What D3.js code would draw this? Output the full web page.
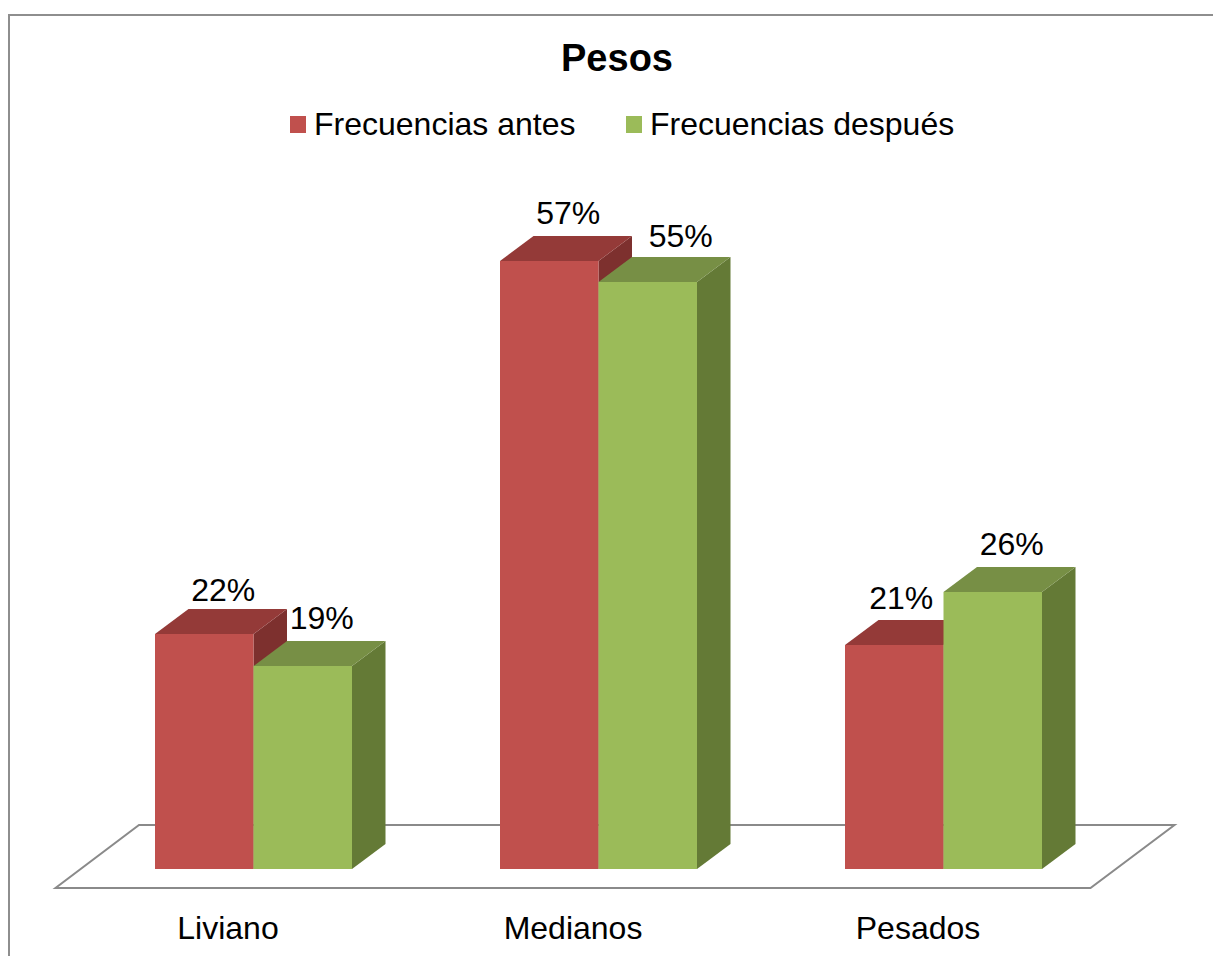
<!DOCTYPE html>
<html lang="es">
<head>
<meta charset="utf-8">
<title>Pesos</title>
<script src="https://cdn.jsdelivr.net/npm/d3@7/dist/d3.min.js"></script>
<style>
  html, body { margin: 0; padding: 0; background: #fff; overflow: hidden; }
  svg { display: block; }
  text { font-family: "Liberation Sans", Arial, sans-serif; fill: #000; }
</style>
</head>
<body>
<svg id="chart" width="1213" height="956"></svg>
<script>
// Chart data
const chartTitle = "Pesos";
const categories = ["Liviano", "Medianos", "Pesados"];
const seriesNames = ["Frecuencias antes", "Frecuencias después"];
const frecuenciasAntes = [22, 57, 21];
const frecuenciasDespues = [19, 55, 26];

// Face colours per series: front, top, side
const faceColours = [
  { front: "#C0504D", top: "#943A38", side: "#7D302E" },
  { front: "#9BBB59", top: "#778F45", side: "#647A36" }
];

// Oblique projection of the bar depth
const depth = { dx: 33.5, dy: 25 };
const baseY = 869;

const svg = d3.select("#chart");

// Outer chart frame, running off the right and bottom of the page
svg.append("path")
  .attr("d", "M9,960 V15 H1217")
  .attr("fill", "none")
  .attr("stroke", "#8e8e8e")
  .attr("stroke-width", 2);

// Scales; whole-pixel heights keep the face joins free of seams
const x0 = d3.scaleBand().domain(categories).range([81, 1116]);
const groupWidth = 197;
const x1 = d3.scaleBand().domain(d3.range(seriesNames.length)).range([0, groupWidth]);
const y = d3.scaleLinear().domain([0, 60]).rangeRound([baseY, baseY - 640]);

// Floor of the 3-D plot
svg.append("path")
  .attr("d", "M55.5,888 H1090.5 L1174.5,825 H139 Z")
  .attr("fill", "#fff")
  .attr("stroke", "#8a8a8a")
  .attr("stroke-width", 2)
  .attr("stroke-linejoin", "miter");

// One record per bar, series by series so later bars overlap earlier ones
const seriesValues = [frecuenciasAntes, frecuenciasDespues];
const bars = [];
categories.forEach((category, c) => {
  seriesValues.forEach((values, s) => {
    bars.push({ category, s, value: values[c] });
  });
});

const barGroups = svg.append("g").selectAll("g").data(bars).join("g");
const left = d => x0(d.category) + (x0.step() - groupWidth) / 2 + x1(d.s);
const right = d => left(d) + x1.bandwidth();

// Side face
barGroups.append("path")
  .attr("fill", d => faceColours[d.s].side)
  .attr("d", d => {
    const r = right(d), t = y(d.value);
    return `M${r},${t} L${r + depth.dx},${t - depth.dy} V${baseY - depth.dy} L${r},${baseY} Z`;
  });

// Top face
barGroups.append("path")
  .attr("fill", d => faceColours[d.s].top)
  .attr("d", d => {
    const l = left(d), r = right(d), t = y(d.value);
    return `M${l},${t} L${l + depth.dx},${t - depth.dy} H${r + depth.dx} L${r},${t} Z`;
  });

// Front face
barGroups.append("rect")
  .attr("fill", d => faceColours[d.s].front)
  .attr("x", left)
  .attr("y", d => y(d.value))
  .attr("width", x1.bandwidth())
  .attr("height", d => baseY - y(d.value));

// Value labels sit above the top face; some are nudged to clear a neighbour
const labelNudge = { "Medianos-1": 14, "Pesados-0": -12 };
const labelLift = { "Liviano-0": 8, "Medianos-1": 10, "Pesados-0": 11 };
const labelKey = d => `${d.category}-${d.s}`;
svg.append("g").selectAll("text").data(bars).join("text")
  .attr("x", d => left(d) + x1.bandwidth() / 2 + 19 + (labelNudge[labelKey(d)] || 0))
  .attr("y", d => y(d.value) - depth.dy - (labelLift[labelKey(d)] ?? 12.5))
  .attr("text-anchor", "middle")
  .attr("font-size", 32)
  .text(d => `${d.value}%`);

// Category axis, shifted left to follow the front edge of the floor
const axis = d3.axisBottom(x0).tickSize(0).tickPadding(0);
const axisG = svg.append("g")
  .attr("transform", "translate(-25.5,909)")
  .call(axis);
axisG.select(".domain").remove();
axisG.selectAll("text")
  .attr("font-size", 32)
  .attr("dy", "0.94em")
  .style("font-family", '"Liberation Sans", Arial, sans-serif');

// Title
svg.append("text")
  .attr("x", 617)
  .attr("y", 71)
  .attr("text-anchor", "middle")
  .attr("font-size", 38)
  .attr("font-weight", "bold")
  .text(chartTitle);

// Legend
const legendX = d3.scaleOrdinal().domain(seriesNames).range([290, 626]);
const legend = svg.append("g").selectAll("g").data(seriesNames).join("g")
  .attr("transform", d => `translate(${legendX(d)},116)`);
legend.append("rect")
  .attr("width", 16)
  .attr("height", 17)
  .attr("fill", (d, i) => faceColours[i].front);
legend.append("text")
  .attr("x", 24)
  .attr("y", 19)
  .attr("font-size", 32)
  .text(d => d);
</script>
</body>
</html>
